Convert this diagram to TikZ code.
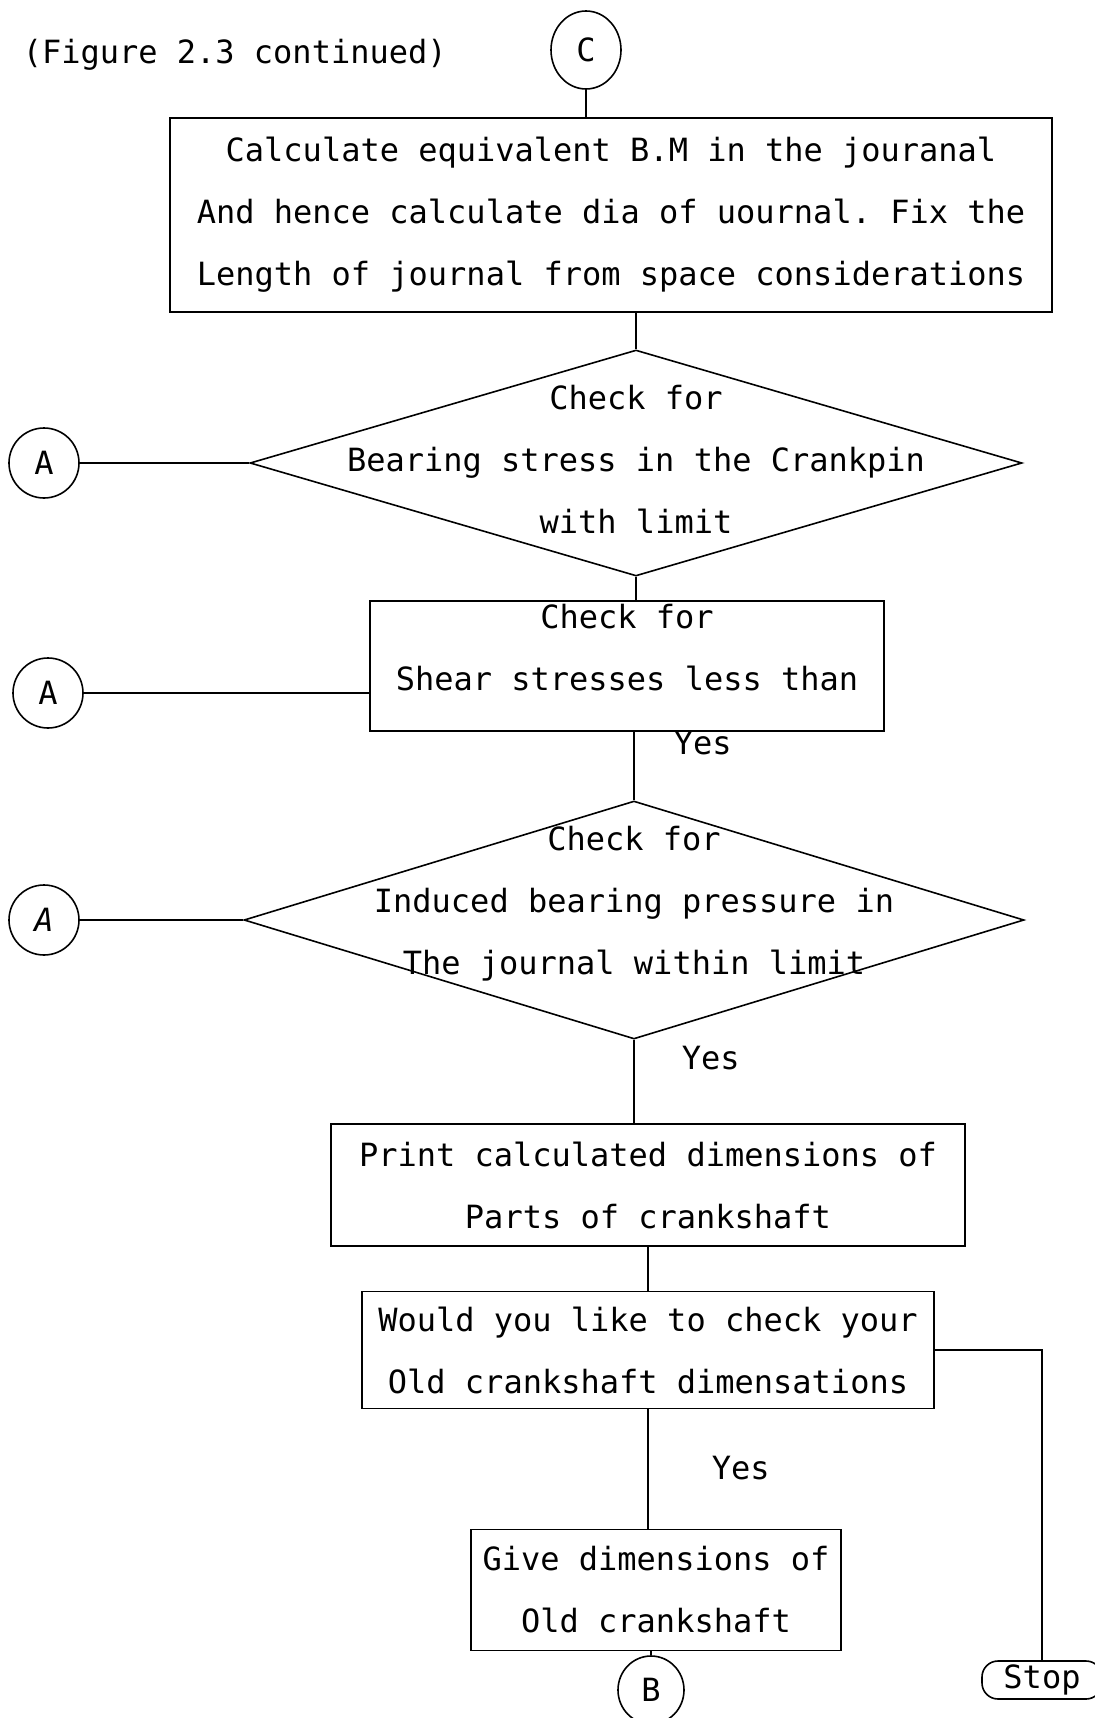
\documentclass[tikz,border=0pt]{standalone}
\usepackage{fontspec}
\newfontfamily\plotterfont{DejaVu Sans Mono}
\usetikzlibrary{positioning, shapes.geometric}
\tikzset{
  every node/.style={font=\plotterfont\frenchspacing\fontsize{16}{31}\selectfont}, % plotter lettering
  box/.style={draw, rectangle, align=center, inner sep=0pt}, % process boxes
  decision/.style={draw, diamond, inner sep=0pt}, % empty diamond, text goes on top
  caption/.style={align=center, inner sep=0pt}, % text laid over a shape
  connector/.style={draw, circle, minimum size=35pt, inner sep=0pt}, % off-page marks
  terminal/.style={draw, rectangle, rounded corners=8pt, minimum width=60pt, minimum height=19pt, inner sep=0pt},
  yes/.style={anchor=west, inner sep=0pt}, % branch labels
}

\begin{document}
\begin{tikzpicture}[on grid, line width=0.8pt]
  \useasboundingbox (0pt,0pt) rectangle (547pt,-859pt);

  \node[anchor=west, inner sep=0pt] (title) at (11pt,-27.5pt) {(Figure 2.3 continued)};
  \node[draw, ellipse, minimum width=35pt, minimum height=39pt, inner sep=0pt] (c) at (293pt,-25pt) {C};

  \node[box, minimum width=441pt, minimum height=97pt, below=82.5pt of c, xshift=12.5pt] (journal)
    {Calculate equivalent B.M in the jouranal\\And hence calculate dia of uournal. Fix the\\Length of journal from space considerations};

  \node[decision, minimum width=386pt, minimum height=113pt, below=124pt of journal, xshift=12.5pt] (crankpin) {};
  \node[caption, yshift=2pt] (crankpintext) at (crankpin) {Check for\\Bearing stress in the Crankpin\\with limit};
  \node[connector, left=296pt of crankpin] (a1) {A};

  \node[box, minimum width=257pt, minimum height=65pt, below=101.5pt of crankpin, xshift=-4.5pt] (shear) {};
  \node[caption, yshift=9pt] (sheartext) at (shear) {Check for\\Shear stresses less than};
  \node[connector, below left=13.5pt and 289.5pt of shear] (a2) {A};

  \node[decision, minimum width=390pt, minimum height=119pt, below=127pt of shear, xshift=3.5pt] (pressure) {};
  \node[caption, yshift=8pt] (pressuretext) at (pressure) {Check for\\Induced bearing pressure in\\The journal within limit};
  \node[connector, left=295pt of pressure] (a3) {\itshape A};

  \node[box, minimum width=317pt, minimum height=61pt, below=132.5pt of pressure, xshift=7pt] (print)
    {Print calculated dimensions of\\Parts of crankshaft};
  \node[box, minimum width=286pt, minimum height=58.5pt, below=82.5pt of print] (ask)
    {Would you like to check your\\Old crankshaft dimensations};
  \node[box, minimum width=185pt, minimum height=60.5pt, below=120pt of ask, xshift=4pt] (old)
    {Give dimensions of\\Old crankshaft};
  \node[draw, ellipse, minimum width=33pt, minimum height=34pt, inner sep=0pt, below=50pt of old, xshift=-2.5pt] (b) {B};
  \node[terminal, below right=165pt and 197pt of ask] (stop) {Stop};

  % connectors
  \draw (c.south) -- (c.south |- journal.north);
  \draw (journal.south -| crankpin.north) -- (crankpin.north);
  \draw (a1) -- (crankpin.west);
  \draw (crankpin.south) -- (crankpin.south |- shear.north);
  \draw (a2) -- (a2 -| shear.west);
  \draw (shear.south -| pressure.north) -- node[yes, pos=0.17, xshift=19.5pt] (yes1) {Yes} (pressure.north);
  \draw (a3) -- (pressure.west);
  \draw (pressure.south) -- node[yes, pos=0.22, xshift=23.5pt] (yes2) {Yes} (pressure.south |- print.north);
  \draw (print.south -| ask.north) -- (ask.north);
  \draw (ask.south) -- node[yes, pos=0.49, xshift=31.5pt] (yes3) {Yes} (ask.south |- old.north);
  \draw (old.south -| b.north) -- (b.north);
  \draw (ask.east) -| (stop.north);
\end{tikzpicture}
\end{document}
